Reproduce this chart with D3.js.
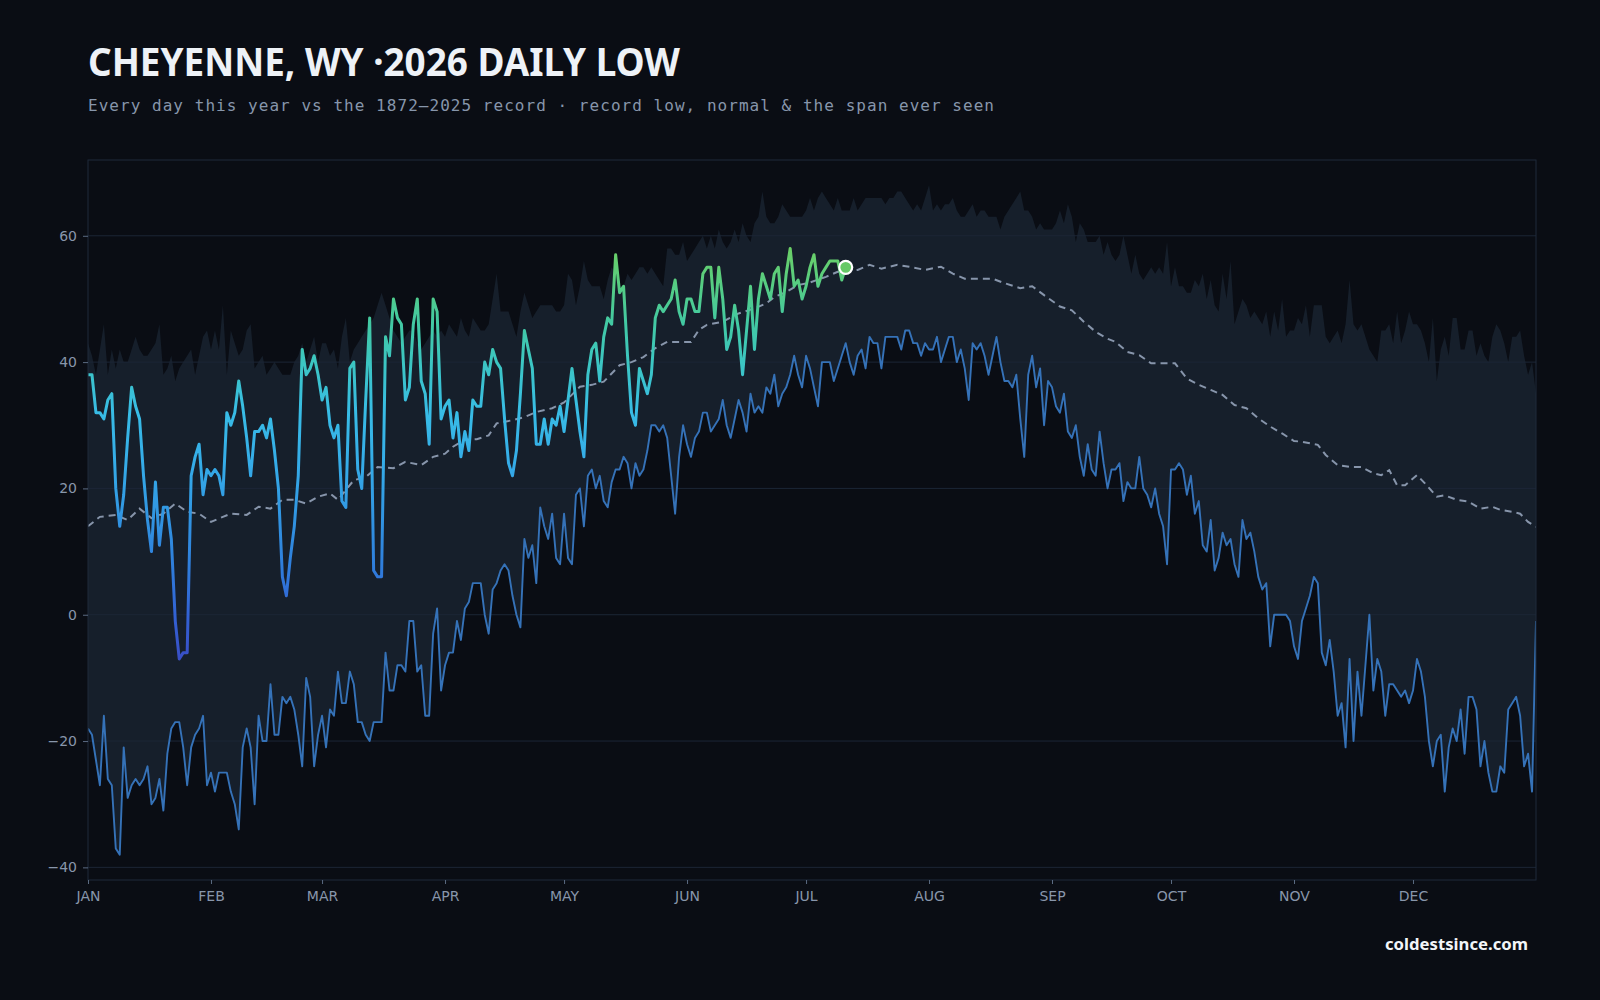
<!DOCTYPE html>
<html>
<head>
<meta charset="utf-8">
<script src="https://cdn.jsdelivr.net/npm/d3@7"></script>
<style>
  html, body { margin: 0; background: #0a0d14; }
</style>
</head>
<body>
<svg id="chart" width="1600" height="1000"></svg>
<script>
// 2026 daily lows, Jan 1 .. Jul 11
const lows2026 = [
  38,38,32,32,31,34,35,20,14,19,
  28,36,33,31,22,15,10,21,11,17,
  17,12,-1,-7,-6,-6,22,25,27,19,
  23,22,23,22,19,32,30,32,37,33,
  28,22,29,29,30,28,31,26,20,6,
  3,9,14,22,42,38,39,41,38,34,
  36,30,28,30,18,17,39,40,23,20,
  34,47,7,6,6,44,41,50,47,46,
  34,36,46,50,37,35,27,50,48,31,
  33,34,28,32,25,29,26,34,33,33,
  40,38,42,40,39,31,24,22,26,35,
  45,42,39,27,27,31,27,31,30,33,
  29,34,39,34,29,25,38,42,43,37,
  44,47,46,57,51,52,41,32,30,39,
  37,35,38,47,49,48,49,50,53,48,
  46,50,50,48,48,54,55,55,47,55,
  50,42,44,49,45,38,45,52,42,50,
  54,52,50,54,55,48,54,58,52,53,
  50,52,55,57,52,54,55,56,56,56,
  53,55
];

// warmest low ever recorded for each day (top of the span)
const recordHigh = [
  43,41,38,42,46,38,42,39,42,40, 40,42,44,42,41,41,42,43,46,38,
  39,41,37,39,40,41,42,38,41,44, 45,42,45,42,49,38,45,43,41,42,
  45,46,39,40,41,38,39,40,39,38, 38,38,40,41,43,40,42,44,40,43,
  43,41,42,39,44,47,40,42,43,44, 45,46,47,49,51,49,47,45,44,43,
  44,45,45,43,42,43,44,45,44,45, 44,46,45,44,47,45,44,47,46,45,
  45,46,50,54,48,48,48,46,44,48, 51,49,47,48,49,49,49,49,48,48,
  49,54,53,49,52,56,53,52,52,52, 50,53,55,54,52,52,54,53,54,55,
  55,54,55,54,53,52,58,58,57,57, 59,56,57,58,59,60,58,60,58,61,
  59,58,59,61,59,62,60,59,62,63, 67,63,62,62,63,65,64,63,63,63,
  63,64,66,64,66,67,66,65,64,66, 64,64,64,66,64,65,66,66,66,66,
  66,65,66,66,67,67,66,65,64,65, 64,66,68,64,65,64,65,65,66,64,
  63,63,64,65,63,64,64,63,63,63, 61,63,64,65,66,67,64,64,63,61,
  62,61,61,61,62,64,62,65,63,59, 62,61,59,59,59,60,57,59,57,56,
  57,60,57,54,57,54,53,54,55,54, 55,54,59,52,55,52,52,51,51,53,
  52,54,50,53,49,48,54,50,56,46, 48,50,49,47,48,47,46,48,44,48,
  45,50,44,45,45,47,46,49,44,49, 49,49,44,43,44,45,43,46,53,46,
  45,46,44,42,41,40,45,45,46,43, 48,43,45,48,46,46,45,43,40,47,
  37,42,44,41,47,47,42,42,45,45, 41,43,41,40,44,46,45,43,40,44,
  44,45,41,38,40,35
];

// record low for each day (bottom of the span)
const recordLow = [
  -18,-19,-23,-27,-16,-26,-27,-37,-38,-21, -29,-27,-26,-27,-26,-24,-30,-29,-26,-31,
  -22,-18,-17,-17,-21,-27,-21,-19,-18,-16, -27,-25,-28,-25,-25,-25,-28,-30,-34,-21,
  -18,-21,-30,-16,-20,-20,-11,-19,-19,-13, -14,-13,-15,-19,-24,-10,-13,-24,-19,-16,
  -21,-15,-16,-9,-14,-14,-9,-11,-17,-17, -19,-20,-17,-17,-17,-6,-12,-12,-8,-8,
  -9,-1,-1,-9,-8,-16,-16,-3,1,-12, -8,-6,-6,-1,-4,1,2,5,5,5,
  0,-3,4,5,7,8,7,3,0,-2, 12,9,11,5,17,14,12,16,9,8,
  16,9,8,19,20,14,22,23,20,22, 18,17,21,23,23,25,24,20,24,22,
  23,26,30,30,29,30,28,22,16,25, 30,27,25,28,29,32,32,29,30,31,
  34,30,28,31,34,32,29,35,32,33, 32,36,35,38,33,35,36,38,41,38,
  36,41,39,36,33,40,40,40,37,39, 41,43,40,38,41,42,39,44,43,43,
  39,44,44,44,44,42,45,45,43,43, 41,43,42,42,44,40,42,44,44,40,
  42,39,34,43,42,43,41,38,41,44, 40,37,37,36,38,31,25,38,41,36,
  39,30,37,36,33,32,35,29,28,30, 25,22,27,23,22,29,24,20,23,23,
  24,18,21,20,20,25,20,19,17,20, 16,14,8,23,23,24,23,19,22,16,
  18,11,10,15,7,9,13,11,12,8, 6,15,12,13,10,6,4,5,-5,0,
  0,0,0,-1,-5,-7,-1,1,3,6, 5,-6,-8,-4,-9,-16,-14,-21,-7,-20,
  -9,-16,-8,0,-12,-7,-9,-16,-11,-11, -12,-13,-12,-14,-12,-7,-9,-13,-20,-24,
  -20,-19,-28,-21,-18,-20,-15,-22,-13,-13, -15,-24,-20,-25,-28,-28,-24,-25,-15,-14,
  -13,-16,-24,-22,-28,-1
];

// normal low
const normalDay = [0,3,7,10,13,16,19,22,25,28,31,34,36,40,43,46,49,52,55,58,61,63,67,70,73,77,80,84,87,90,
  92,95,98,101,103,107,110,113,117,120,124,127,130,132,134,137,140,143,146,149,152,154,156,160,164,168,171,173,176,179,
  182,186,189,194,197,200,204,207,211,215,218,221,225,228,231,235,238,241,245,248,251,254,257,259,262,265,268,271,274,277,
  280,283,286,289,292,295,298,301,304,306,310,312,315,318,321,324,326,328,330,332,335,337,340,342,345,348,351,354,356,359,
  361,363,365];
const normalVal = [14,15.5,15.8,15,16.8,15.3,16,17.6,16.3,16,14.7,15.5,16,15.8,17.1,16.8,18.2,18.2,17.6,18.7,19.2,18.2,21.3,21.8,23.4,23.2,24.2,23.7,25,25.5,
  26.6,27.7,27.8,28.4,30.3,30.8,31.3,32.1,32.7,33.6,36.1,36.4,36.9,38.2,39.5,40,40.8,42.2,43.2,43.2,43.2,45.1,45.9,46.4,47.7,48.5,49.3,50.3,51.1,52.2,
  52.6,53.5,54.3,54.6,55.4,54.8,55.4,55.1,54.6,55.1,54,53.2,53.2,53.2,52.5,51.7,52,50.6,48.8,48.2,46.4,44.8,43.7,43.2,41.6,41.1,39.8,39.8,39.8,37.4,
  36.4,35.6,34.8,33.2,32.7,31.1,29.8,28.7,27.5,27.4,26.9,25.3,23.7,23.4,23.4,22.4,22.1,22.9,20.5,20.5,22.1,20.8,18.7,18.9,18.2,17.9,16.8,17.1,16.6,16.3,
  16,14.7,13.9];

const months = ["JAN","FEB","MAR","APR","MAY","JUN","JUL","AUG","SEP","OCT","NOV","DEC"];
const monthStart = [0,31,59,90,120,151,181,212,243,273,304,334];
const yTicks = [60, 40, 20, 0, -20, -40];

// colour of the 2026 line by temperature
const lineStops = [
  [-8, "#3a4cc4"], [0, "#3262d4"], [8, "#2f7fdc"], [16, "#3196e2"], [24, "#35ace8"],
  [32, "#38bce6"], [40, "#3cc6c2"], [46, "#42c9a4"], [52, "#55cd84"], [58, "#6bcf66"]
];

const W = 1600, H = 1000;
const plotLeft = 88, plotRight = 1536, plotTop = 160, plotBottom = 880;

const x = d3.scaleLinear().domain([0, recordLow.length - 1]).range([plotLeft, plotRight]);
const y = d3.scaleLinear().domain([-42, 72]).range([plotBottom, plotTop]);

const svg = d3.select("#chart");
svg.append("rect").attr("width", W).attr("height", H).attr("fill", "#0a0d14");

const defs = svg.append("defs");
defs.append("clipPath").attr("id", "plot")
  .append("rect").attr("x", plotLeft).attr("y", plotTop)
  .attr("width", plotRight - plotLeft).attr("height", plotBottom - plotTop);

const grad = defs.append("linearGradient")
  .attr("id", "tempGrad")
  .attr("gradientUnits", "userSpaceOnUse")
  .attr("x1", 0).attr("x2", 0)
  .attr("y1", y(lineStops[0][0])).attr("y2", y(lineStops[lineStops.length - 1][0]));
grad.selectAll("stop").data(lineStops).join("stop")
  .attr("offset", d => (d[0] - lineStops[0][0]) / (lineStops[lineStops.length - 1][0] - lineStops[0][0]))
  .attr("stop-color", d => d[1]);

const plot = svg.append("g").attr("clip-path", "url(#plot)");

// span ever seen
const span = d3.area()
  .x((d, i) => x(i))
  .y0((d, i) => y(recordLow[i]))
  .y1(d => y(d));
plot.append("path").datum(recordHigh)
  .attr("d", span)
  .attr("fill", "#161f2b");

// gridlines
plot.append("g").selectAll("line").data(yTicks).join("line")
  .attr("x1", plotLeft).attr("x2", plotRight)
  .attr("y1", d => y(d)).attr("y2", d => y(d))
  .attr("stroke", "#1c2636").attr("stroke-width", 1);

// record low
plot.append("path").datum(recordLow)
  .attr("d", d3.line().x((d, i) => x(i)).y(d => y(d)))
  .attr("fill", "none")
  .attr("stroke", "#3572b8")
  .attr("stroke-width", 1.9)
  .attr("stroke-linejoin", "round");

// normal
plot.append("path").datum(normalDay)
  .attr("d", d3.line().x(d => x(d)).y((d, i) => y(normalVal[i])))
  .attr("fill", "none")
  .attr("stroke", "#8795ab")
  .attr("stroke-width", 2)
  .attr("stroke-dasharray", "7,5");

// this year
plot.append("path").datum(lows2026)
  .attr("d", d3.line().x((d, i) => x(i)).y(d => y(d)))
  .attr("fill", "none")
  .attr("stroke", "url(#tempGrad)")
  .attr("stroke-width", 3)
  .attr("stroke-linejoin", "round");

const last = lows2026.length - 1;
svg.append("circle")
  .attr("cx", x(last)).attr("cy", y(lows2026[last]))
  .attr("r", 6.5)
  .attr("fill", "#66c966")
  .attr("stroke", "#ffffff")
  .attr("stroke-width", 2.2);

// frame
svg.append("rect")
  .attr("x", plotLeft).attr("y", plotTop)
  .attr("width", plotRight - plotLeft).attr("height", plotBottom - plotTop)
  .attr("fill", "none").attr("stroke", "#1e2a3a").attr("stroke-width", 1);

// axes
const yAxis = svg.append("g")
  .attr("transform", `translate(${plotLeft},0)`)
  .call(d3.axisLeft(y).tickValues(yTicks).tickSize(5).tickPadding(6));
const xAxis = svg.append("g")
  .attr("transform", `translate(0,${plotBottom})`)
  .call(d3.axisBottom(x).tickValues(monthStart).tickFormat((d, i) => months[i]).tickSize(4).tickPadding(7));

[yAxis, xAxis].forEach(g => {
  g.select(".domain").remove();
  g.selectAll(".tick line").attr("stroke", "#5b6b82");
  g.selectAll(".tick text")
    .attr("fill", "#8896ab")
    .style("font-family", "'DejaVu Sans', sans-serif")
    .style("font-size", "14px");
});

// titles
svg.append("text")
  .attr("x", 88).attr("y", 76)
  .attr("fill", "#eef2f7")
  .attr("textLength", 592)
  .attr("lengthAdjust", "spacingAndGlyphs")
  .style("font-family", "'Liberation Sans Narrow', 'Noto Sans', sans-serif")
  .style("font-weight", "700")
  .style("font-size", "39px")
  .text("CHEYENNE, WY ·2026 DAILY LOW");

svg.append("text")
  .attr("x", 88).attr("y", 111)
  .attr("fill", "#8796ab")
  .attr("textLength", 906)
  .style("font-family", "'DejaVu Sans Mono', monospace")
  .style("font-size", "16px")
  .text("Every day this year vs the 1872–2025 record · record low, normal & the span ever seen");

svg.append("text")
  .attr("x", 1528).attr("y", 950)
  .attr("text-anchor", "end")
  .attr("fill", "#f2f5f8")
  .attr("textLength", 143)
  .attr("lengthAdjust", "spacingAndGlyphs")
  .style("font-family", "'Noto Sans', sans-serif")
  .style("font-weight", "700")
  .style("font-size", "16px")
  .text("coldestsince.com");
</script>
</body>
</html>
